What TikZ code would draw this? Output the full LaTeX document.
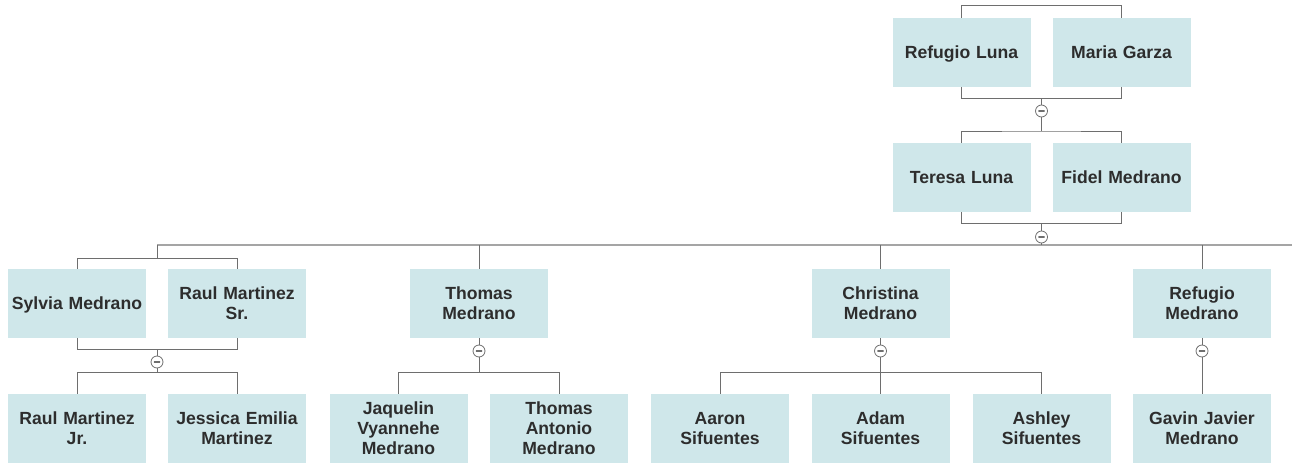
\documentclass[tikz,border=0pt]{standalone}
\usepackage{fontspec}
\setmainfont{Liberation Sans}
\definecolor{boxfill}{RGB}{207,231,234}
\definecolor{txt}{RGB}{45,45,45}
\definecolor{lnc}{RGB}{110,110,110}
\definecolor{lnl}{RGB}{165,165,165}
\begin{document}
\begin{tikzpicture}[x=0.75pt,y=-0.75pt,
  person/.style={rectangle,fill=boxfill,draw=none,minimum width=103.5pt,minimum height=51.75pt,
    inner sep=0pt,align=center,text width=100pt,font=\bfseries\fontsize{13.2}{15}\selectfont,text=txt,
    execute at begin node={\rule{0pt}{13.5pt}},execute at end node=\strut},
  conn/.style={draw=lnc,line width=0.75pt},
  mainln/.style={draw=lnl,line width=1.2pt},
  toggle/.style={circle,draw=lnc,fill=white,line width=0.6pt,minimum size=9pt,inner sep=0pt,
    path picture={\draw[lnc,line width=1pt,line cap=round] ([xshift=-2pt]path picture bounding box.center) -- ([xshift=2pt]path picture bounding box.center);}}]
\useasboundingbox (0,0) rectangle (1299,464);
% generation 1
\node[person] (rl) at (961.5,52.5) {Refugio Luna};
\node[person] (mg) at (1121.5,52.5) {Maria Garza};
% generation 2
\node[person] (tl) at (961.5,177.5) {Teresa Luna};
\node[person] (fm) at (1121.5,177.5) {Fidel Medrano};
% generation 3
\node[person] (sm) at (77,303.5) {Sylvia Medrano};
\node[person] (rs) at (237,303.5) {Raul Martinez\\Sr.};
\node[person] (tm) at (479,303.5) {Thomas\\Medrano};
\node[person] (cm) at (880.5,303.5) {Christina\\Medrano};
\node[person] (rm) at (1202,303.5) {Refugio\\Medrano};
% generation 4
\node[person] (rj) at (77,428.5) {Raul Martinez\\Jr.};
\node[person] (je) at (237,428.5) {Jessica Emilia\\Martinez};
\node[person] (jv) at (398.5,428.5) {Jaquelin\\Vyannehe\\Medrano};
\node[person] (ta) at (559,428.5) {Thomas\\Antonio\\Medrano};
\node[person] (aa) at (720,428.5) {Aaron\\Sifuentes};
\node[person] (ad) at (880.5,428.5) {Adam\\Sifuentes};
\node[person] (ash) at (1041.5,428.5) {Ashley\\Sifuentes};
\node[person] (gv) at (1202,428.5) {Gavin Javier\\Medrano};
% junction coordinates
\coordinate (j1) at (1041.5,98);
\coordinate (j2) at (1041.5,131);
\coordinate (j3) at (1041.5,223);
\coordinate (j4a) at (157,245);
\coordinate (j4b) at (479,245);
\coordinate (j4c) at (880.5,245);
\coordinate (j4d) at (1202,245);
\coordinate (j4e) at (1292,245);
\coordinate (j4m) at (1041.5,245);
\coordinate (j5) at (157,349);
\coordinate (j6) at (157,372);
\coordinate (j7) at (479,372);
\coordinate (j8) at (880.5,372);
% toggles
\node[toggle] (c1) at (1041.5,111) {};
\node[toggle] (c2) at (1041.5,237) {};
\node[toggle] (c3) at (157,362) {};
\node[toggle] (c4) at (479,351) {};
\node[toggle] (c5) at (880.5,351) {};
\node[toggle] (c6) at (1202,351) {};
% generation 1 couple
\draw[conn] (rl.north) -- ++(0,-12) -| (mg.north);
\draw[conn] (rl.south) -- ++(0,11) -| (mg.south);
\draw[conn] (j1) -- (c1);
\draw[conn] (c1) -- (j2);
% generation 2 couple
\draw[conn] (tl.north) |- (j2) -| (fm.north);
\draw[conn] (tl.south) -- ++(0,11) -| (fm.south);
\draw[conn] (j3) -- (c2);
\draw[mainln] (j4a) -- (j4e);
\draw[conn] (c2) -- (j4m);
\draw[conn] (j4a) -- ++(0,13) -| (sm.north);
\draw[conn] (j4a) -- ++(0,13) -| (rs.north);
\draw[conn] (j4b) -- (tm.north);
\draw[conn] (j4c) -- (cm.north);
\draw[conn] (j4d) -- (rm.north);
% Sylvia & Raul
\draw[conn] (sm.south) -- ++(0,11) -| (rs.south);
\draw[conn] (j5) -- (c3);
\draw[conn] (c3) -- (j6);
\draw[conn] (j6) -| (rj.north);
\draw[conn] (j6) -| (je.north);
% Thomas
\draw[conn] (tm.south) -- (c4);
\draw[conn] (c4) -- (j7);
\draw[conn] (j7) -| (jv.north);
\draw[conn] (j7) -| (ta.north);
% Christina
\draw[conn] (cm.south) -- (c5);
\draw[conn] (c5) -- (j8);
\draw[conn] (j8) -| (aa.north);
\draw[conn] (j8) -- (ad.north);
\draw[conn] (j8) -| (ash.north);
% Refugio
\draw[conn] (rm.south) -- (c6);
\draw[conn] (c6) -- (gv.north);
\end{tikzpicture}
\end{document}
